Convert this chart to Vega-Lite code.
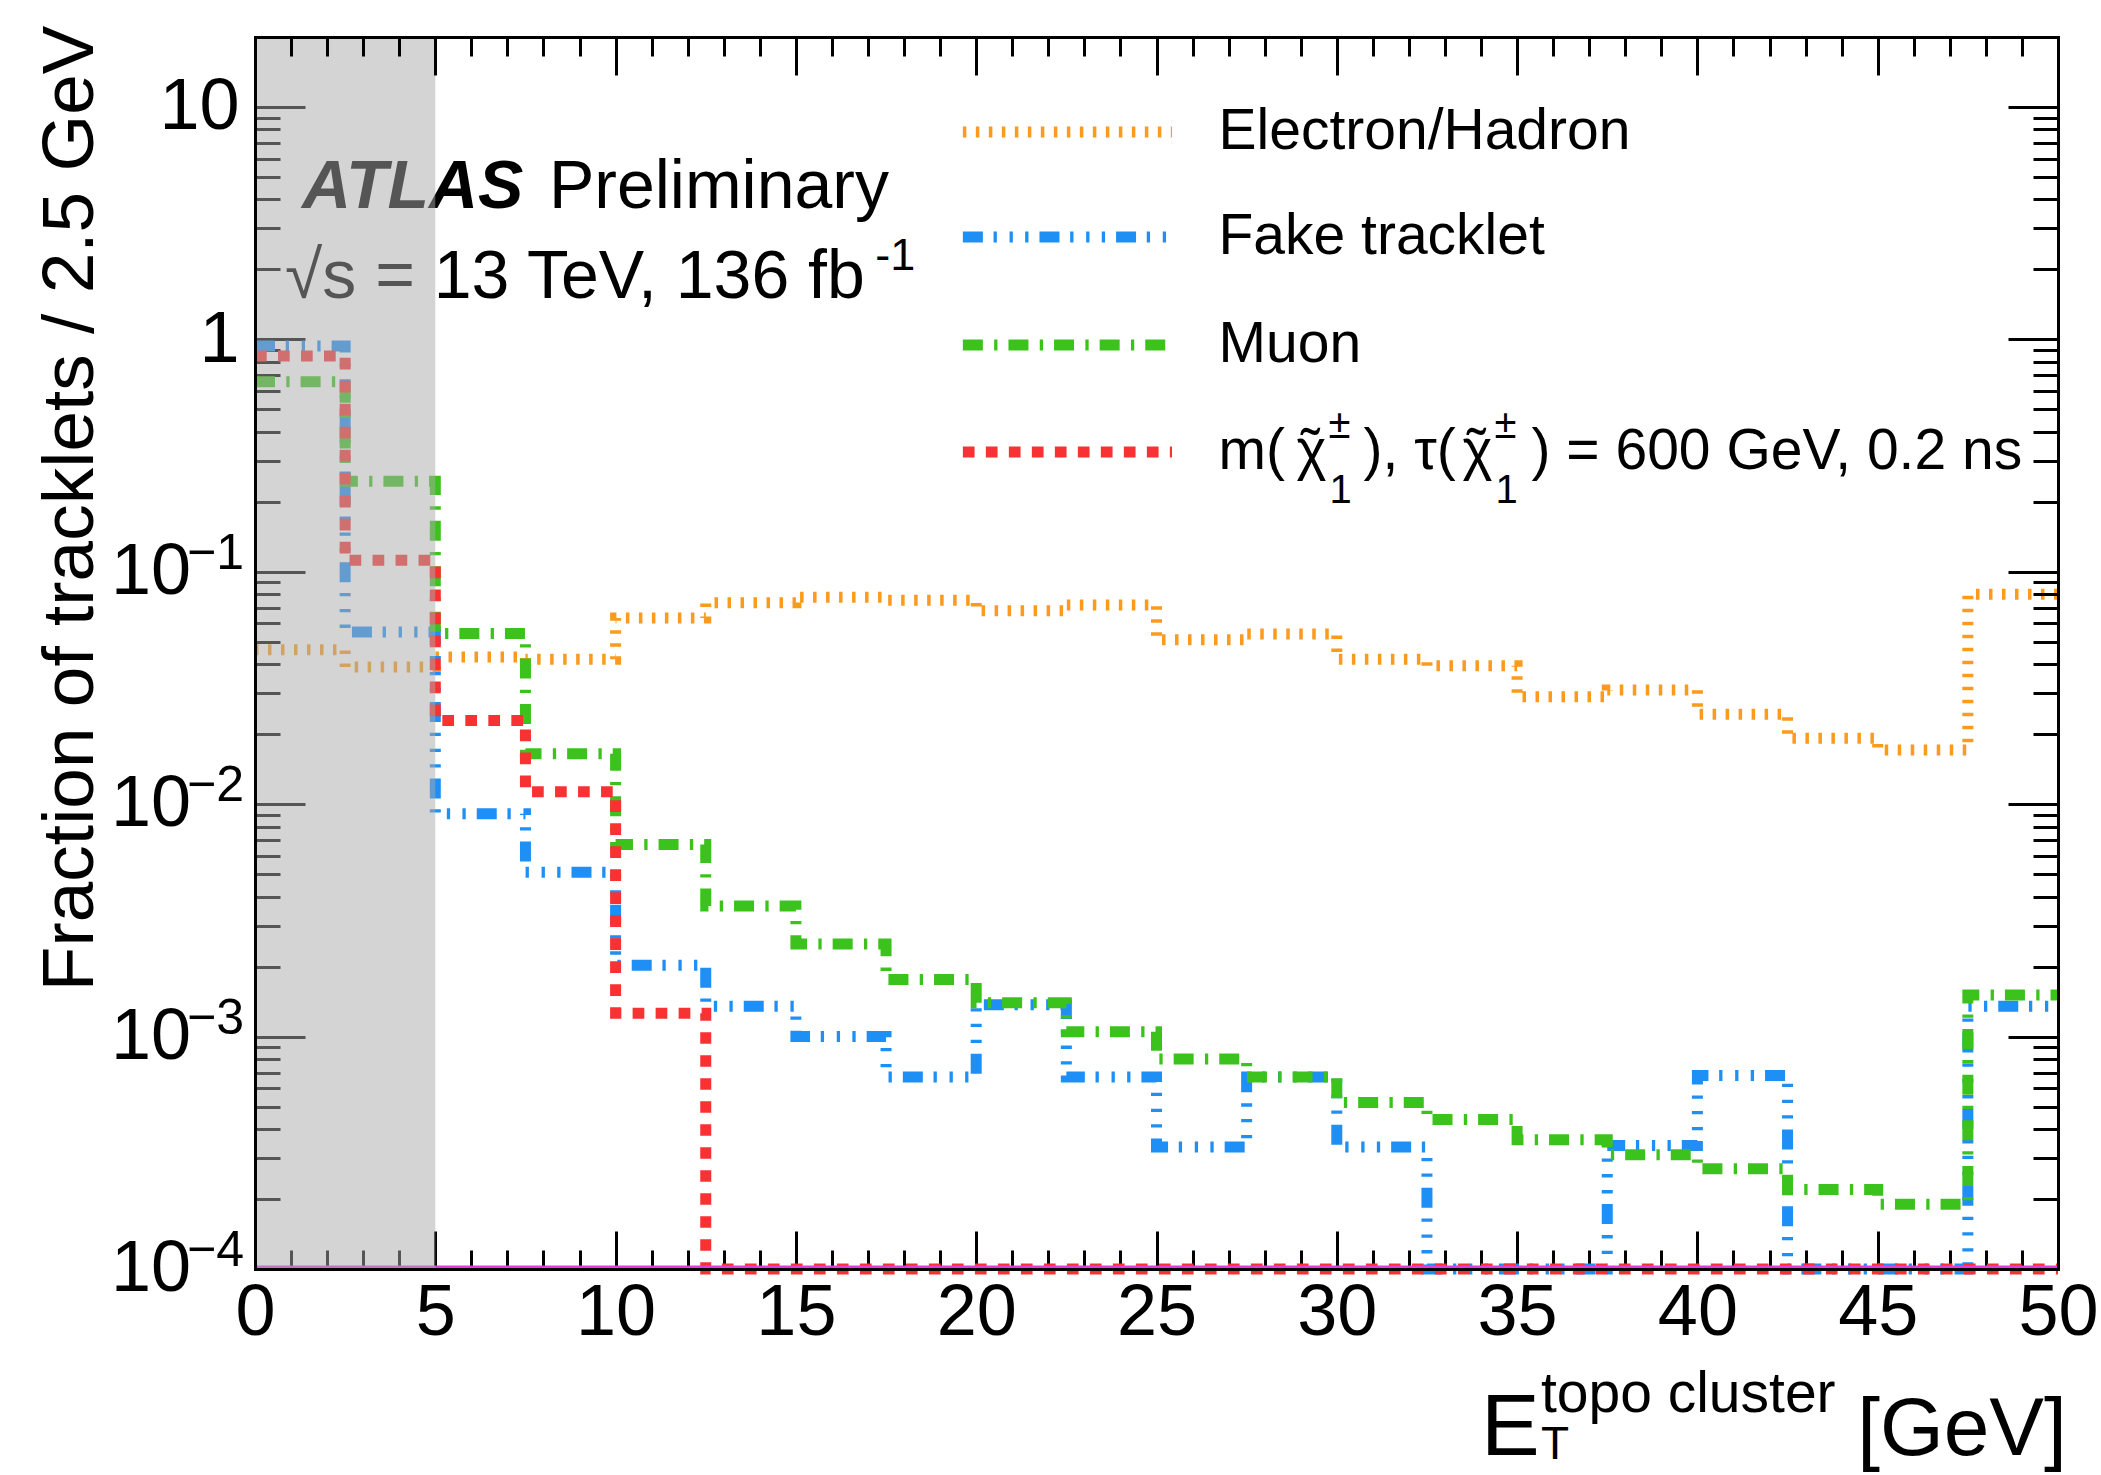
{
  "$schema": "https://vega.github.io/schema/vega-lite/v6.json",
  "width": 1803,
  "height": 1232,
  "autosize": {"type": "none"},
  "padding": {"left": 255, "top": 37, "right": 43, "bottom": 206},
  "background": "white",
  "config": {
    "view": {"stroke": null},
    "font": "Liberation Sans, Arial, Helvetica, sans-serif",
    "axis": {
      "grid": false,
      "labelFont": "Liberation Sans, Arial, Helvetica, sans-serif",
      "titleFont": "Liberation Sans, Arial, Helvetica, sans-serif",
      "labelColor": "black",
      "titleColor": "black",
      "tickColor": "black",
      "domainColor": "black",
      "tickWidth": 3,
      "domainWidth": 3,
      "domainCap": "square",
      "labelFontSize": 72,
      "titleFontSize": 73,
      "titleFontWeight": "normal",
      "labelOverlap": false,
      "labelFlush": false,
      "labelBound": false
    }
  },
  "datasets": {
    "hist": [
      {"s": "eh", "x": 0, "v": 0.0462},
      {"s": "eh", "x": 2.5, "v": 0.0389},
      {"s": "eh", "x": 5, "v": 0.043},
      {"s": "eh", "x": 7.5, "v": 0.042},
      {"s": "eh", "x": 10, "v": 0.0632},
      {"s": "eh", "x": 12.5, "v": 0.0736},
      {"s": "eh", "x": 15, "v": 0.0777},
      {"s": "eh", "x": 17.5, "v": 0.0755},
      {"s": "eh", "x": 20, "v": 0.068},
      {"s": "eh", "x": 22.5, "v": 0.072},
      {"s": "eh", "x": 25, "v": 0.051},
      {"s": "eh", "x": 27.5, "v": 0.054},
      {"s": "eh", "x": 30, "v": 0.042},
      {"s": "eh", "x": 32.5, "v": 0.0394},
      {"s": "eh", "x": 35, "v": 0.029},
      {"s": "eh", "x": 37.5, "v": 0.031},
      {"s": "eh", "x": 40, "v": 0.0244},
      {"s": "eh", "x": 42.5, "v": 0.0192},
      {"s": "eh", "x": 45, "v": 0.0171},
      {"s": "eh", "x": 47.5, "v": 0.08},
      {"s": "eh", "x": 50, "v": 0.08},
      {"s": "fake", "x": 0, "v": 0.936},
      {"s": "fake", "x": 2.5, "v": 0.055},
      {"s": "fake", "x": 5, "v": 0.0091},
      {"s": "fake", "x": 7.5, "v": 0.0051},
      {"s": "fake", "x": 10, "v": 0.00203},
      {"s": "fake", "x": 12.5, "v": 0.00135},
      {"s": "fake", "x": 15, "v": 0.001},
      {"s": "fake", "x": 17.5, "v": 0.00067},
      {"s": "fake", "x": 20, "v": 0.00137},
      {"s": "fake", "x": 22.5, "v": 0.00067},
      {"s": "fake", "x": 25, "v": 0.000335},
      {"s": "fake", "x": 27.5, "v": 0.00067},
      {"s": "fake", "x": 30, "v": 0.000335},
      {"s": "fake", "x": 32.5, "v": 0.0001},
      {"s": "fake", "x": 35, "v": 0.0001},
      {"s": "fake", "x": 37.5, "v": 0.00034},
      {"s": "fake", "x": 40, "v": 0.00068},
      {"s": "fake", "x": 42.5, "v": 0.0001},
      {"s": "fake", "x": 45, "v": 0.0001},
      {"s": "fake", "x": 47.5, "v": 0.00135},
      {"s": "fake", "x": 50, "v": 0.00135},
      {"s": "muon", "x": 0, "v": 0.657},
      {"s": "muon", "x": 2.5, "v": 0.245},
      {"s": "muon", "x": 5, "v": 0.0543},
      {"s": "muon", "x": 7.5, "v": 0.0165},
      {"s": "muon", "x": 10, "v": 0.0067},
      {"s": "muon", "x": 12.5, "v": 0.00365},
      {"s": "muon", "x": 15, "v": 0.0025},
      {"s": "muon", "x": 17.5, "v": 0.00176},
      {"s": "muon", "x": 20, "v": 0.0014},
      {"s": "muon", "x": 22.5, "v": 0.00105},
      {"s": "muon", "x": 25, "v": 0.0008},
      {"s": "muon", "x": 27.5, "v": 0.00067},
      {"s": "muon", "x": 30, "v": 0.00052},
      {"s": "muon", "x": 32.5, "v": 0.00044},
      {"s": "muon", "x": 35, "v": 0.00036},
      {"s": "muon", "x": 37.5, "v": 0.00031},
      {"s": "muon", "x": 40, "v": 0.00027},
      {"s": "muon", "x": 42.5, "v": 0.00022},
      {"s": "muon", "x": 45, "v": 0.00019},
      {"s": "muon", "x": 47.5, "v": 0.00151},
      {"s": "muon", "x": 50, "v": 0.00151},
      {"s": "sig", "x": 0, "v": 0.849},
      {"s": "sig", "x": 2.5, "v": 0.112},
      {"s": "sig", "x": 5, "v": 0.0229},
      {"s": "sig", "x": 7.5, "v": 0.0113},
      {"s": "sig", "x": 10, "v": 0.00126},
      {"s": "sig", "x": 12.5, "v": 0.0001},
      {"s": "sig", "x": 15, "v": 0.0001},
      {"s": "sig", "x": 17.5, "v": 0.0001},
      {"s": "sig", "x": 20, "v": 0.0001},
      {"s": "sig", "x": 22.5, "v": 0.0001},
      {"s": "sig", "x": 25, "v": 0.0001},
      {"s": "sig", "x": 27.5, "v": 0.0001},
      {"s": "sig", "x": 30, "v": 0.0001},
      {"s": "sig", "x": 32.5, "v": 0.0001},
      {"s": "sig", "x": 35, "v": 0.0001},
      {"s": "sig", "x": 37.5, "v": 0.0001},
      {"s": "sig", "x": 40, "v": 0.0001},
      {"s": "sig", "x": 42.5, "v": 0.0001},
      {"s": "sig", "x": 45, "v": 0.0001},
      {"s": "sig", "x": 47.5, "v": 0.0001},
      {"s": "sig", "x": 50, "v": 0.0001}
    ],
    "ylab": [
      {"v": 0.1, "e": "−1"},
      {"v": 0.01, "e": "−2"},
      {"v": 0.001, "e": "−3"},
      {"v": 0.0001, "e": "−4"}
    ],
    "one": [{}]
  },
  "data": {"name": "hist"},
  "resolve": {"axis": {"x": "independent", "y": "independent"}},
  "layer": [
    {
      "transform": [{"filter": "datum.s === 'eh'"}],
      "mark": {"type": "line", "interpolate": "step-after", "color": "#fb9a1c", "strokeWidth": 11, "strokeDash": [3.5, 9.5], "strokeCap": "butt", "clip": false},
      "encoding": {
        "x": {"field": "x", "type": "quantitative", "scale": {"domain": [0, 50], "nice": false, "zero": false},
          "axis": {"orient": "bottom", "values": [0, 5, 10, 15, 20, 25, 30, 35, 40, 45, 50], "format": "d", "ticks": false, "tickSize": 0, "domain": true, "labelPadding": 8, "title": null, "zindex": 1}},
        "y": {"field": "v", "type": "quantitative", "scale": {"type": "log", "domain": [0.0001, 20], "nice": false},
          "axis": {"orient": "left", "values": [1, 10], "labelExpr": "datum.value > 5 ? '10' : '1'", "ticks": false, "tickSize": 0, "domain": true, "labelPadding": 16, "labelBaseline": "middle",
            "title": "Fraction of tracklets / 2.5 GeV", "titleAngle": 270, "titleX": -163, "titleY": -12, "titleAlign": "right", "titleBaseline": "alphabetic", "zindex": 1}}
      }
    },
    {
      "transform": [{"filter": "datum.s === 'fake'"}],
      "mark": {"type": "line", "interpolate": "step-after", "color": "#1e8ff5", "strokeWidth": 11, "strokeDash": [20, 10.7, 3.3, 12.7, 3.3, 12.3, 3.3, 11], "strokeCap": "butt", "clip": false},
      "encoding": {
        "x": {"field": "x", "type": "quantitative", "scale": {"domain": [0, 50], "nice": false, "zero": false},
          "axis": {"orient": "bottom", "values": [0, 5, 10, 15, 20, 25, 30, 35, 40, 45, 50], "labels": false, "domain": false, "ticks": true, "tickSize": -38, "title": null, "zindex": 0}},
        "y": {"field": "v", "type": "quantitative", "scale": {"type": "log", "domain": [0.0001, 20], "nice": false},
          "axis": {"orient": "left", "values": [0.0001, 0.001, 0.01, 0.1, 1, 10], "labels": false, "domain": false, "ticks": true, "tickSize": -50, "title": null, "zindex": 0}}
      }
    },
    {
      "transform": [{"filter": "datum.s === 'muon'"}],
      "mark": {"type": "line", "interpolate": "step-after", "color": "#3cc21c", "strokeWidth": 11, "strokeDash": [20, 11.3, 3.3, 11], "strokeCap": "butt", "clip": false},
      "encoding": {
        "x": {"field": "x", "type": "quantitative", "scale": {"domain": [0, 50], "nice": false, "zero": false},
          "axis": {"orient": "bottom", "values": [1, 2, 3, 4, 6, 7, 8, 9, 11, 12, 13, 14, 16, 17, 18, 19, 21, 22, 23, 24, 26, 27, 28, 29, 31, 32, 33, 34, 36, 37, 38, 39, 41, 42, 43, 44, 46, 47, 48, 49], "labels": false, "domain": false, "ticks": true, "tickSize": -19, "title": null, "zindex": 0}},
        "y": {"field": "v", "type": "quantitative", "scale": {"type": "log", "domain": [0.0001, 20], "nice": false},
          "axis": {"orient": "left", "values": [0.0002, 0.0003, 0.0004, 0.0005, 0.0006, 0.0007, 0.0008, 0.0009, 0.002, 0.003, 0.004, 0.005, 0.006, 0.007, 0.008, 0.009, 0.02, 0.03, 0.04, 0.05, 0.06, 0.07, 0.08, 0.09, 0.2, 0.3, 0.4, 0.5, 0.6, 0.7, 0.8, 0.9, 2, 3, 4, 5, 6, 7, 8, 9], "labels": false, "domain": false, "ticks": true, "tickSize": -25, "title": null, "zindex": 0}}
      }
    },
    {
      "transform": [{"filter": "datum.s === 'sig'"}],
      "mark": {"type": "line", "interpolate": "step-after", "color": "#f83232", "strokeWidth": 11, "strokeDash": [11.7, 11.3], "strokeCap": "butt", "clip": false},
      "encoding": {
        "x": {"field": "x", "type": "quantitative", "scale": {"domain": [0, 50], "nice": false, "zero": false},
          "axis": {"orient": "top", "values": [0, 5, 10, 15, 20, 25, 30, 35, 40, 45, 50], "labels": false, "domain": true, "ticks": true, "tickSize": -38, "title": null, "zindex": 1}},
        "y": {"field": "v", "type": "quantitative", "scale": {"type": "log", "domain": [0.0001, 20], "nice": false},
          "axis": {"orient": "right", "values": [0.0001, 0.001, 0.01, 0.1, 1, 10], "labels": false, "domain": true, "ticks": true, "tickSize": -50, "title": null, "zindex": 1}}
      }
    },
    {
      "data": {"name": "one"},
      "mark": {"type": "rule", "color": "#e03ce0", "strokeWidth": 3},
      "encoding": {
        "x": {"datum": 0, "type": "quantitative", "scale": {"domain": [0, 50], "nice": false, "zero": false}, "axis": null},
        "x2": {"datum": 50},
        "y": {"datum": 0.000102, "type": "quantitative", "scale": {"type": "log", "domain": [0.0001, 20], "nice": false}, "axis": null}
      }
    },
    {
      "data": {"name": "one"},
      "mark": {"type": "text", "text": "ATLAS", "fontSize": 68, "fontWeight": "bold", "fontStyle": "italic", "align": "left", "baseline": "alphabetic", "color": "black"},
      "encoding": {
        "x": {"datum": 1.3, "type": "quantitative", "scale": {"domain": [0, 50], "nice": false, "zero": false}, "axis": null},
        "y": {"datum": 3.67, "type": "quantitative", "scale": {"type": "log", "domain": [0.0001, 20], "nice": false}, "axis": null}
      }
    },
    {
      "data": {"name": "one"},
      "mark": {"type": "text", "text": "Preliminary", "fontSize": 68, "align": "left", "baseline": "alphabetic", "color": "black"},
      "encoding": {
        "x": {"datum": 8.15, "type": "quantitative", "scale": {"domain": [0, 50], "nice": false, "zero": false}, "axis": null},
        "y": {"datum": 3.67, "type": "quantitative", "scale": {"type": "log", "domain": [0.0001, 20], "nice": false}, "axis": null}
      }
    },
    {
      "data": {"name": "one"},
      "mark": {"type": "text", "text": "√s = 13 TeV, 136 fb", "fontSize": 68, "align": "left", "baseline": "alphabetic", "color": "black"},
      "encoding": {
        "x": {"datum": 0.83, "type": "quantitative", "scale": {"domain": [0, 50], "nice": false, "zero": false}, "axis": null},
        "y": {"datum": 1.507, "type": "quantitative", "scale": {"type": "log", "domain": [0.0001, 20], "nice": false}, "axis": null}
      }
    },
    {
      "data": {"name": "one"},
      "mark": {"type": "text", "text": "-1", "fontSize": 45, "align": "left", "baseline": "alphabetic", "color": "black"},
      "encoding": {
        "x": {"datum": 17.2, "type": "quantitative", "scale": {"domain": [0, 50], "nice": false, "zero": false}, "axis": null},
        "y": {"datum": 1.99, "type": "quantitative", "scale": {"type": "log", "domain": [0.0001, 20], "nice": false}, "axis": null}
      }
    },
    {
      "data": {"name": "one"},
      "mark": {"type": "rect", "color": "#aaaaaa", "opacity": 0.5},
      "encoding": {
        "x": {"datum": 0, "type": "quantitative", "scale": {"domain": [0, 50], "nice": false, "zero": false},
          "axis": {"orient": "top", "values": [1, 2, 3, 4, 6, 7, 8, 9, 11, 12, 13, 14, 16, 17, 18, 19, 21, 22, 23, 24, 26, 27, 28, 29, 31, 32, 33, 34, 36, 37, 38, 39, 41, 42, 43, 44, 46, 47, 48, 49], "labels": false, "domain": false, "ticks": true, "tickSize": -19, "title": null, "zindex": 1}},
        "x2": {"datum": 5},
        "y": {"datum": 0.0001, "type": "quantitative", "scale": {"type": "log", "domain": [0.0001, 20], "nice": false},
          "axis": {"orient": "right", "values": [0.0002, 0.0003, 0.0004, 0.0005, 0.0006, 0.0007, 0.0008, 0.0009, 0.002, 0.003, 0.004, 0.005, 0.006, 0.007, 0.008, 0.009, 0.02, 0.03, 0.04, 0.05, 0.06, 0.07, 0.08, 0.09, 0.2, 0.3, 0.4, 0.5, 0.6, 0.7, 0.8, 0.9, 2, 3, 4, 5, 6, 7, 8, 9], "labels": false, "domain": false, "ticks": true, "tickSize": -25, "title": null, "zindex": 1}},
        "y2": {"datum": 20}
      }
    },
    {
      "data": {"name": "one"},
      "mark": {"type": "rule", "color": "#fb9a1c", "strokeWidth": 11, "strokeDash": [3.5, 9.5], "strokeCap": "butt"},
      "encoding": {
        "x": {"datum": 19.63, "type": "quantitative", "scale": {"domain": [0, 50], "nice": false, "zero": false}, "axis": null},
        "x2": {"datum": 25.43},
        "y": {"datum": 7.8, "type": "quantitative", "scale": {"type": "log", "domain": [0.0001, 20], "nice": false}, "axis": null}
      }
    },
    {
      "data": {"name": "one"},
      "mark": {"type": "rule", "color": "#1e8ff5", "strokeWidth": 11, "strokeDash": [20, 10.7, 3.3, 12.7, 3.3, 12.3, 3.3, 11], "strokeCap": "butt"},
      "encoding": {
        "x": {"datum": 19.63, "type": "quantitative", "scale": {"domain": [0, 50], "nice": false, "zero": false}, "axis": null},
        "x2": {"datum": 25.43},
        "y": {"datum": 2.76, "type": "quantitative", "scale": {"type": "log", "domain": [0.0001, 20], "nice": false}, "axis": null}
      }
    },
    {
      "data": {"name": "one"},
      "mark": {"type": "rule", "color": "#3cc21c", "strokeWidth": 11, "strokeDash": [20, 11.3, 3.3, 11], "strokeCap": "butt"},
      "encoding": {
        "x": {"datum": 19.63, "type": "quantitative", "scale": {"domain": [0, 50], "nice": false, "zero": false}, "axis": null},
        "x2": {"datum": 25.43},
        "y": {"datum": 0.946, "type": "quantitative", "scale": {"type": "log", "domain": [0.0001, 20], "nice": false}, "axis": null}
      }
    },
    {
      "data": {"name": "one"},
      "mark": {"type": "rule", "color": "#f83232", "strokeWidth": 11, "strokeDash": [11.7, 11.3], "strokeCap": "butt"},
      "encoding": {
        "x": {"datum": 19.63, "type": "quantitative", "scale": {"domain": [0, 50], "nice": false, "zero": false}, "axis": null},
        "x2": {"datum": 25.43},
        "y": {"datum": 0.328, "type": "quantitative", "scale": {"type": "log", "domain": [0.0001, 20], "nice": false}, "axis": null}
      }
    },
    {
      "data": {"name": "one"},
      "mark": {"type": "text", "text": "Electron/Hadron", "fontSize": 57, "align": "left", "baseline": "middle", "color": "black"},
      "encoding": {
        "x": {"datum": 26.72, "type": "quantitative", "scale": {"domain": [0, 50], "nice": false, "zero": false}, "axis": null},
        "y": {"datum": 7.8, "type": "quantitative", "scale": {"type": "log", "domain": [0.0001, 20], "nice": false}, "axis": null}
      }
    },
    {
      "data": {"name": "one"},
      "mark": {"type": "text", "text": "Fake tracklet", "fontSize": 57, "align": "left", "baseline": "middle", "color": "black"},
      "encoding": {
        "x": {"datum": 26.72, "type": "quantitative", "scale": {"domain": [0, 50], "nice": false, "zero": false}, "axis": null},
        "y": {"datum": 2.76, "type": "quantitative", "scale": {"type": "log", "domain": [0.0001, 20], "nice": false}, "axis": null}
      }
    },
    {
      "data": {"name": "one"},
      "mark": {"type": "text", "text": "Muon", "fontSize": 57, "align": "left", "baseline": "middle", "color": "black"},
      "encoding": {
        "x": {"datum": 26.72, "type": "quantitative", "scale": {"domain": [0, 50], "nice": false, "zero": false}, "axis": null},
        "y": {"datum": 0.946, "type": "quantitative", "scale": {"type": "log", "domain": [0.0001, 20], "nice": false}, "axis": null}
      }
    },
    {
      "data": {"name": "one"},
      "mark": {"type": "text", "text": "m(", "fontSize": 57, "align": "left", "baseline": "middle", "color": "black"},
      "encoding": {
        "x": {"datum": 26.72, "type": "quantitative", "scale": {"domain": [0, 50], "nice": false, "zero": false}, "axis": null},
        "y": {"datum": 0.328, "type": "quantitative", "scale": {"type": "log", "domain": [0.0001, 20], "nice": false}, "axis": null}
      }
    },
    {
      "data": {"name": "one"},
      "mark": {"type": "text", "text": "χ", "fontSize": 57, "align": "left", "baseline": "middle", "color": "black", "dx": 78},
      "encoding": {
        "x": {"datum": 26.72, "type": "quantitative", "scale": {"domain": [0, 50], "nice": false, "zero": false}, "axis": null},
        "y": {"datum": 0.328, "type": "quantitative", "scale": {"type": "log", "domain": [0.0001, 20], "nice": false}, "axis": null}
      }
    },
    {
      "data": {"name": "one"},
      "mark": {"type": "text", "text": "˜", "fontSize": 57, "align": "center", "baseline": "middle", "color": "black", "dx": 92},
      "encoding": {
        "x": {"datum": 26.72, "type": "quantitative", "scale": {"domain": [0, 50], "nice": false, "zero": false}, "axis": null},
        "y": {"datum": 0.328, "type": "quantitative", "scale": {"type": "log", "domain": [0.0001, 20], "nice": false}, "axis": null}
      }
    },
    {
      "data": {"name": "one"},
      "mark": {"type": "text", "text": "±", "fontSize": 40, "align": "left", "baseline": "middle", "color": "black", "dx": 110, "dy": -26},
      "encoding": {
        "x": {"datum": 26.72, "type": "quantitative", "scale": {"domain": [0, 50], "nice": false, "zero": false}, "axis": null},
        "y": {"datum": 0.328, "type": "quantitative", "scale": {"type": "log", "domain": [0.0001, 20], "nice": false}, "axis": null}
      }
    },
    {
      "data": {"name": "one"},
      "mark": {"type": "text", "text": "1", "fontSize": 40, "align": "left", "baseline": "middle", "color": "black", "dx": 111, "dy": 39},
      "encoding": {
        "x": {"datum": 26.72, "type": "quantitative", "scale": {"domain": [0, 50], "nice": false, "zero": false}, "axis": null},
        "y": {"datum": 0.328, "type": "quantitative", "scale": {"type": "log", "domain": [0.0001, 20], "nice": false}, "axis": null}
      }
    },
    {
      "data": {"name": "one"},
      "mark": {"type": "text", "text": "), τ(", "fontSize": 57, "align": "left", "baseline": "middle", "color": "black", "dx": 145},
      "encoding": {
        "x": {"datum": 26.72, "type": "quantitative", "scale": {"domain": [0, 50], "nice": false, "zero": false}, "axis": null},
        "y": {"datum": 0.328, "type": "quantitative", "scale": {"type": "log", "domain": [0.0001, 20], "nice": false}, "axis": null}
      }
    },
    {
      "data": {"name": "one"},
      "mark": {"type": "text", "text": "χ", "fontSize": 57, "align": "left", "baseline": "middle", "color": "black", "dx": 244},
      "encoding": {
        "x": {"datum": 26.72, "type": "quantitative", "scale": {"domain": [0, 50], "nice": false, "zero": false}, "axis": null},
        "y": {"datum": 0.328, "type": "quantitative", "scale": {"type": "log", "domain": [0.0001, 20], "nice": false}, "axis": null}
      }
    },
    {
      "data": {"name": "one"},
      "mark": {"type": "text", "text": "˜", "fontSize": 57, "align": "center", "baseline": "middle", "color": "black", "dx": 258},
      "encoding": {
        "x": {"datum": 26.72, "type": "quantitative", "scale": {"domain": [0, 50], "nice": false, "zero": false}, "axis": null},
        "y": {"datum": 0.328, "type": "quantitative", "scale": {"type": "log", "domain": [0.0001, 20], "nice": false}, "axis": null}
      }
    },
    {
      "data": {"name": "one"},
      "mark": {"type": "text", "text": "±", "fontSize": 40, "align": "left", "baseline": "middle", "color": "black", "dx": 276, "dy": -26},
      "encoding": {
        "x": {"datum": 26.72, "type": "quantitative", "scale": {"domain": [0, 50], "nice": false, "zero": false}, "axis": null},
        "y": {"datum": 0.328, "type": "quantitative", "scale": {"type": "log", "domain": [0.0001, 20], "nice": false}, "axis": null}
      }
    },
    {
      "data": {"name": "one"},
      "mark": {"type": "text", "text": "1", "fontSize": 40, "align": "left", "baseline": "middle", "color": "black", "dx": 277, "dy": 39},
      "encoding": {
        "x": {"datum": 26.72, "type": "quantitative", "scale": {"domain": [0, 50], "nice": false, "zero": false}, "axis": null},
        "y": {"datum": 0.328, "type": "quantitative", "scale": {"type": "log", "domain": [0.0001, 20], "nice": false}, "axis": null}
      }
    },
    {
      "data": {"name": "one"},
      "mark": {"type": "text", "text": ") = 600 GeV, 0.2 ns", "fontSize": 57, "align": "left", "baseline": "middle", "color": "black", "dx": 313},
      "encoding": {
        "x": {"datum": 26.72, "type": "quantitative", "scale": {"domain": [0, 50], "nice": false, "zero": false}, "axis": null},
        "y": {"datum": 0.328, "type": "quantitative", "scale": {"type": "log", "domain": [0.0001, 20], "nice": false}, "axis": null}
      }
    },
    {
      "data": {"name": "ylab"},
      "mark": {"type": "text", "text": "10", "fontSize": 72, "align": "right", "baseline": "middle", "color": "black", "dx": -64},
      "encoding": {
        "x": {"datum": 0, "type": "quantitative", "scale": {"domain": [0, 50], "nice": false, "zero": false}, "axis": null},
        "y": {"field": "v", "type": "quantitative", "scale": {"type": "log", "domain": [0.0001, 20], "nice": false}, "axis": null}
      }
    },
    {
      "data": {"name": "ylab"},
      "mark": {"type": "text", "fontSize": 50, "align": "left", "baseline": "middle", "color": "black", "dx": -68, "dy": -18},
      "encoding": {
        "x": {"datum": 0, "type": "quantitative", "scale": {"domain": [0, 50], "nice": false, "zero": false}, "axis": null},
        "y": {"field": "v", "type": "quantitative", "scale": {"type": "log", "domain": [0.0001, 20], "nice": false}, "axis": null},
        "text": {"field": "e", "type": "nominal"}
      }
    },
    {
      "data": {"name": "one"},
      "mark": {"type": "text", "text": "E", "fontSize": 88, "align": "left", "baseline": "alphabetic", "color": "black", "dy": 186},
      "encoding": {
        "x": {"datum": 34.0, "type": "quantitative", "scale": {"domain": [0, 50], "nice": false, "zero": false}, "axis": null},
        "y": {"datum": 0.0001, "type": "quantitative", "scale": {"type": "log", "domain": [0.0001, 20], "nice": false}, "axis": null}
      }
    },
    {
      "data": {"name": "one"},
      "mark": {"type": "text", "text": "topo cluster", "fontSize": 57, "align": "left", "baseline": "alphabetic", "color": "black", "dy": 143},
      "encoding": {
        "x": {"datum": 35.66, "type": "quantitative", "scale": {"domain": [0, 50], "nice": false, "zero": false}, "axis": null},
        "y": {"datum": 0.0001, "type": "quantitative", "scale": {"type": "log", "domain": [0.0001, 20], "nice": false}, "axis": null}
      }
    },
    {
      "data": {"name": "one"},
      "mark": {"type": "text", "text": "T", "fontSize": 46, "align": "left", "baseline": "alphabetic", "color": "black", "dy": 190},
      "encoding": {
        "x": {"datum": 35.66, "type": "quantitative", "scale": {"domain": [0, 50], "nice": false, "zero": false}, "axis": null},
        "y": {"datum": 0.0001, "type": "quantitative", "scale": {"type": "log", "domain": [0.0001, 20], "nice": false}, "axis": null}
      }
    },
    {
      "data": {"name": "one"},
      "mark": {"type": "text", "text": "[GeV]", "fontSize": 82, "align": "left", "baseline": "alphabetic", "color": "black", "dy": 186},
      "encoding": {
        "x": {"datum": 44.43, "type": "quantitative", "scale": {"domain": [0, 50], "nice": false, "zero": false}, "axis": null},
        "y": {"datum": 0.0001, "type": "quantitative", "scale": {"type": "log", "domain": [0.0001, 20], "nice": false}, "axis": null}
      }
    }
  ]
}
